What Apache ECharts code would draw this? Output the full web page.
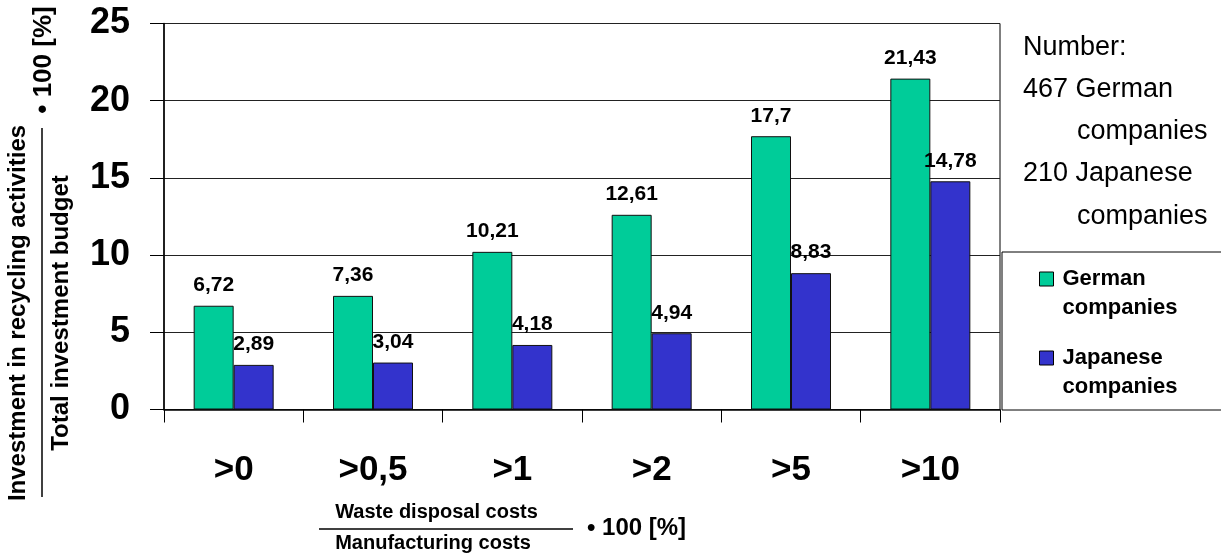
<!DOCTYPE html>
<html>
<head>
<meta charset="utf-8">
<script src="https://cdn.jsdelivr.net/npm/echarts@6/dist/echarts.min.js"></script>
<style>
  html, body { margin: 0; padding: 0; background: #fff; }
  #main { width: 1221px; height: 556px; }
</style>
</head>
<body>
<div id="main"></div>
<script>
// chart data
var categories = ['>0', '>0,5', '>1', '>2', '>5', '>10'];
var germanValues = [6.72, 7.36, 10.21, 12.61, 17.7, 21.43];
var japaneseValues = [2.89, 3.04, 4.18, 4.94, 8.83, 14.78];
var seriesNames = ['German\ncompanies', 'Japanese\ncompanies'];
var yMin = 0, yMax = 25, yStep = 5;

var FONT = '"Liberation Sans", Arial, sans-serif';
var myChart = echarts.init(document.getElementById('main'));

var comma = function (p) {
    return String(p.value).replace('.', ',');
};

var barLabel = {
    show: true,
    position: 'top',
    distance: 10,
    fontFamily: FONT,
    fontSize: 21,
    fontWeight: 'bold',
    color: '#000',
    formatter: comma
};

var option = {
    backgroundColor: '#fff',
    animation: false,
    grid: {
        left: 164,
        right: 221,
        top: 23.5,
        bottom: 146.5,
        show: true,
        borderColor: '#000',
        borderWidth: 1
    },
    legend: {
        orient: 'vertical',
        left: 1002,
        top: 252,
        padding: [12.5, 100, 8.5, 37],
        itemGap: 21,
        itemWidth: 14,
        itemHeight: 43,
        icon: 'path://M0,0h14v14h-14zM0,43',
        borderColor: '#000',
        borderWidth: 1,
        itemStyle: { borderColor: '#000', borderWidth: 1 },
        textStyle: {
            fontFamily: FONT,
            fontSize: 22,
            fontWeight: 'bold',
            lineHeight: 29,
            color: '#000',
            padding: [0, 0, 0, 4]
        },
        data: seriesNames
    },
    xAxis: {
        type: 'category',
        data: categories,
        axisLine: { lineStyle: { color: '#000', width: 1.5 } },
        axisTick: { show: true, length: 13, lineStyle: { color: '#000' } },
        axisLabel: {
            margin: 43,
            fontFamily: FONT,
            fontSize: 35,
            fontWeight: 'bold',
            color: '#000'
        }
    },
    yAxis: {
        type: 'value',
        min: yMin,
        max: yMax,
        interval: yStep,
        axisLine: { show: true, lineStyle: { color: '#000', width: 1.5 } },
        axisTick: { show: true, length: 14, lineStyle: { color: '#000' } },
        splitLine: { lineStyle: { color: '#222', width: 1 } },
        axisLabel: {
            margin: 34,
            fontFamily: FONT,
            fontSize: 36,
            fontWeight: 'bold',
            color: '#000'
        }
    },
    series: [
        {
            name: seriesNames[0],
            type: 'bar',
            data: germanValues,
            barWidth: 40,
            barGap: 0,
            itemStyle: { color: '#00CC99', borderColor: '#111', borderWidth: 1 },
            label: barLabel
        },
        {
            name: seriesNames[1],
            type: 'bar',
            data: japaneseValues,
            barWidth: 40,
            barGap: 0,
            itemStyle: { color: '#3333CC', borderColor: '#111', borderWidth: 1 },
            label: barLabel
        }
    ],
    graphic: [
        // y axis name as a fraction
        {
            type: 'text', x: 18.5, y: 313, rotation: Math.PI / 2,
            style: { text: 'Investment in recycling activities', align: 'center', verticalAlign: 'middle',
                font: 'bold 24px ' + FONT, fill: '#000' }
        },
        {
            type: 'line', shape: { x1: 42, y1: 128, x2: 42, y2: 497 },
            style: { stroke: '#000', lineWidth: 1.5 }
        },
        {
            type: 'text', x: 61.5, y: 313, rotation: Math.PI / 2,
            style: { text: 'Total investment budget', align: 'center', verticalAlign: 'middle',
                font: 'bold 24px ' + FONT, fill: '#000' }
        },
        {
            type: 'text', x: 44, y: 60, rotation: Math.PI / 2,
            style: { text: '\u2022 100 [%]', align: 'center', verticalAlign: 'middle',
                font: 'bold 26px ' + FONT, fill: '#000' }
        },
        // x axis name as a fraction
        {
            type: 'text', x: 436.5, y: 512,
            style: { text: 'Waste disposal costs', align: 'center', verticalAlign: 'middle',
                font: 'bold 20px ' + FONT, fill: '#000' }
        },
        {
            type: 'line', shape: { x1: 319, y1: 529, x2: 573, y2: 529 },
            style: { stroke: '#000', lineWidth: 1.5 }
        },
        {
            type: 'text', x: 433, y: 543,
            style: { text: 'Manufacturing costs', align: 'center', verticalAlign: 'middle',
                font: 'bold 20px ' + FONT, fill: '#000' }
        },
        {
            type: 'text', x: 587, y: 528,
            style: { text: '\u2022 100 [%]', align: 'left', verticalAlign: 'middle',
                font: 'bold 24px ' + FONT, fill: '#000' }
        },
        // sample size note
        {
            type: 'text', x: 1023, y: 48,
            style: { text: 'Number:', align: 'left', verticalAlign: 'middle',
                font: '27px ' + FONT, fill: '#000' }
        },
        {
            type: 'text', x: 1023, y: 90,
            style: { text: '467 German', align: 'left', verticalAlign: 'middle',
                font: '27px ' + FONT, fill: '#000' }
        },
        {
            type: 'text', x: 1077, y: 132,
            style: { text: 'companies', align: 'left', verticalAlign: 'middle',
                font: '27px ' + FONT, fill: '#000' }
        },
        {
            type: 'text', x: 1023, y: 174,
            style: { text: '210 Japanese', align: 'left', verticalAlign: 'middle',
                font: '27px ' + FONT, fill: '#000' }
        },
        {
            type: 'text', x: 1077, y: 217,
            style: { text: 'companies', align: 'left', verticalAlign: 'middle',
                font: '27px ' + FONT, fill: '#000' }
        }
    ]
};

myChart.setOption(option);
</script>
</body>
</html>
